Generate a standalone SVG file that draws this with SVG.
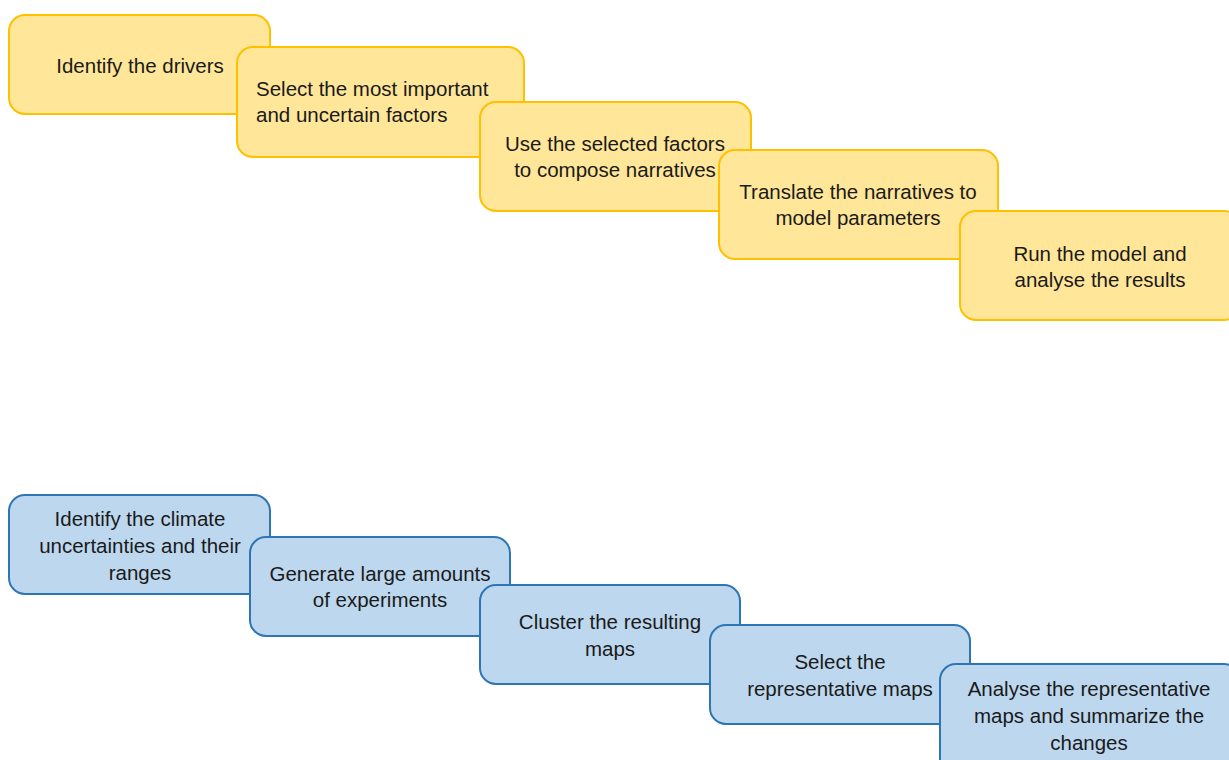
<svg xmlns="http://www.w3.org/2000/svg" width="1229" height="760" viewBox="0 0 1229 760">
<style>
.y{fill:#FFE699;stroke:#FFC000;stroke-width:2}
.b{fill:#BDD7EE;stroke:#2E75B6;stroke-width:2}
text{font-family:"Liberation Sans",Arial,sans-serif;font-size:20.5px;fill:#1a1a1a}
.c{text-anchor:middle}
</style>
<rect width="1229" height="760" fill="#ffffff"/>
<g id="connectors"></g>
<g id="y1"><rect class="y" x="9" y="15" width="261" height="99" rx="16"/><text class="c" x="140" y="73">Identify the drivers</text></g>
<g id="y2"><rect class="y" x="237" y="47" width="287" height="110" rx="16"/><text x="256" y="96">Select the most important</text><text x="256" y="122">and uncertain factors</text></g>
<g id="y3"><rect class="y" x="480" y="102" width="271" height="109" rx="16"/><text class="c" x="615" y="151">Use the selected factors</text><text class="c" x="615" y="177">to compose narratives</text></g>
<g id="y4"><rect class="y" x="719" y="150" width="279" height="109" rx="16"/><text class="c" x="858" y="199">Translate the narratives to</text><text class="c" x="858" y="225">model parameters</text></g>
<g id="y5"><rect class="y" x="960" y="211" width="280" height="109" rx="16"/><text class="c" x="1100" y="261">Run the model and</text><text class="c" x="1100" y="287">analyse the results</text></g>
<g id="b1"><rect class="b" x="9" y="495" width="261" height="99" rx="16"/><text class="c" x="140" y="526">Identify the climate</text><text class="c" x="140" y="553">uncertainties and their</text><text class="c" x="140" y="580">ranges</text></g>
<g id="b2"><rect class="b" x="250" y="537" width="260" height="99" rx="16"/><text class="c" x="380" y="581">Generate large amounts</text><text class="c" x="380" y="607">of experiments</text></g>
<g id="b3"><rect class="b" x="480" y="585" width="260" height="99" rx="16"/><text class="c" x="610" y="629">Cluster the resulting</text><text class="c" x="610" y="656">maps</text></g>
<g id="b4"><rect class="b" x="710" y="625" width="260" height="99" rx="16"/><text class="c" x="840" y="669">Select the</text><text class="c" x="840" y="696">representative maps</text></g>
<g id="b5"><rect class="b" x="940" y="664" width="300" height="110" rx="16"/><text class="c" x="1089" y="696">Analyse the representative</text><text class="c" x="1089" y="723">maps and summarize the</text><text class="c" x="1089" y="750">changes</text></g>
</svg>
